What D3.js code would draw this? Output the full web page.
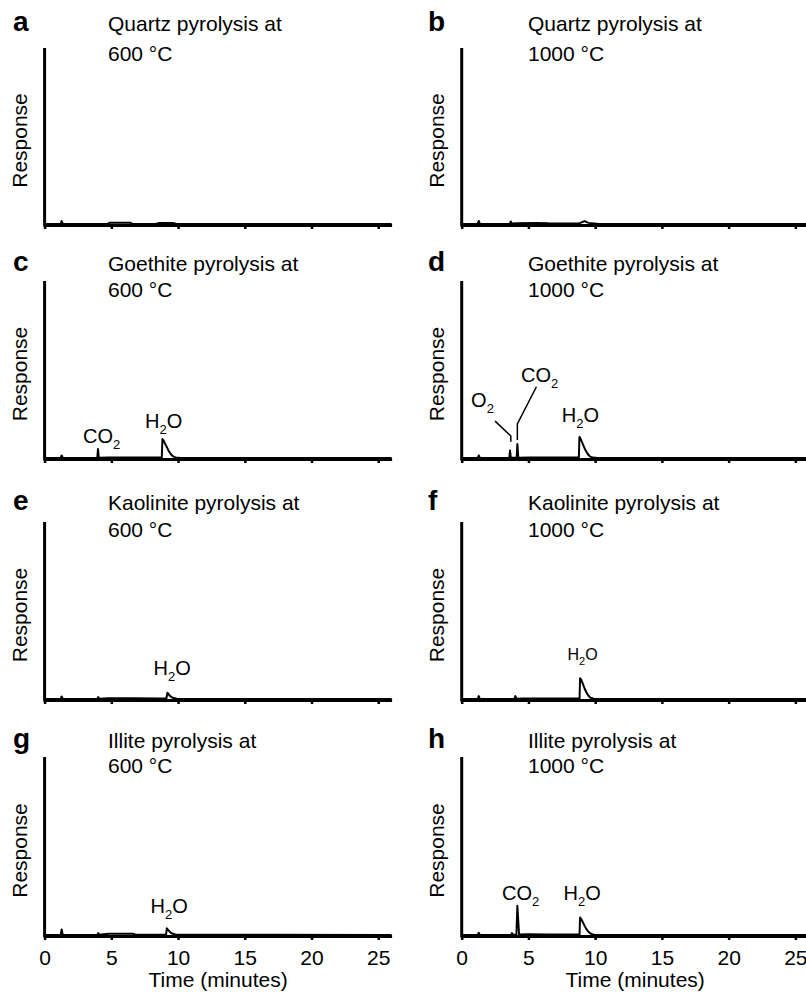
<!DOCTYPE html>
<html><head><meta charset="utf-8">
<script src="https://cdn.jsdelivr.net/npm/d3@7"></script>
<style>body{margin:0;background:#fff}svg{display:block}</style>
</head><body><svg id="chart" width="806" height="992"></svg>
<script>
// ---------- data ----------
const panelLetters = ["a","b","c","d","e","f","g","h"];
const minerals = ["Quartz","Quartz","Goethite","Goethite","Kaolinite","Kaolinite","Illite","Illite"];
const temps = ["600 °C","1000 °C","600 °C","1000 °C","600 °C","1000 °C","600 °C","1000 °C"];
const xTicks = [0,5,10,15,20,25];
const xLabel = "Time (minutes)";
const yLabel = "Response";

// traces: [time (min), response (% of full scale)]
const traceA = [[0,0.6],[1.2,0.6],[1.28,2.2],[1.36,0.6],[4.7,0.6],[4.9,1.3],[6.4,1.3],[6.6,0.6],[8.3,0.6],[8.6,1.2],[9.6,1.2],[9.9,0.6],[26,0.5]];
const traceB = [[0,0.6],[1.2,0.6],[1.28,2.3],[1.36,0.6],[3.6,0.6],[3.68,2],[3.76,0.8],[4.2,1],[5.6,1.2],[6.5,1],[8.8,0.9],[9.2,2.2],[9.5,1.2],[10.3,0.6],[26,0.5]];
const traceC = [[0,0.6],[1.2,0.6],[1.28,2],[1.36,0.6],[3.95,0.6],[4.0,5.6],[4.06,0.7],[4.8,0.9],[6.6,0.9],[8.78,0.8],[8.83,11.2],[8.9,10.5],[9.0,9],[9.15,6.8],[9.3,4.5],[9.45,2.8],[9.6,1.6],[9.8,0.9],[10.2,0.6],[26,0.5]];
const traceD = [[0,0.6],[1.2,0.6],[1.28,2],[1.36,0.6],[3.57,0.6],[3.62,4.8],[3.68,0.7],[4.12,0.7],[4.17,8.4],[4.24,0.7],[5,0.9],[6.5,0.9],[8.78,0.8],[8.82,12.4],[8.9,11.5],[9.0,9.8],[9.15,7],[9.3,4.6],[9.45,2.8],[9.6,1.5],[9.8,0.8],[10.2,0.6],[26,0.5]];
const traceE = [[0,0.6],[1.2,0.6],[1.28,2],[1.36,0.6],[3.95,0.6],[4.02,1.6],[4.1,0.7],[4.8,1],[6.6,1],[8.6,0.8],[9.13,0.9],[9.2,4.1],[9.35,2.6],[9.55,1.4],[9.9,0.7],[26,0.5]];
const traceF = [[0,0.6],[1.2,0.6],[1.28,2.2],[1.36,0.6],[3.95,0.6],[4.02,2.2],[4.1,0.7],[4.6,0.9],[6.4,0.9],[8.83,0.8],[8.87,12.2],[8.95,11.4],[9.05,9.6],[9.2,6.6],[9.35,4.2],[9.5,2.4],[9.65,1.3],[9.9,0.7],[26,0.5]];
const traceG = [[0,0.6],[1.2,0.6],[1.28,3.6],[1.36,0.6],[3.95,0.6],[4.02,1.6],[4.1,0.7],[4.8,1.3],[6.6,1.3],[6.8,0.7],[9.1,0.8],[9.16,4.3],[9.3,3],[9.5,1.5],[9.8,0.8],[26,0.5]];
const traceH = [[0,0.6],[1.2,0.6],[1.28,1.8],[1.36,0.6],[3.7,0.6],[3.77,1.6],[3.84,0.7],[4.1,0.7],[4.17,16.9],[4.3,0.8],[5,1],[6.5,0.9],[8.83,0.8],[8.87,10.3],[8.95,9.6],[9.05,8.1],[9.2,5.8],[9.35,3.8],[9.5,2.3],[9.7,1.2],[9.9,0.7],[26,0.5]];
const traces = [traceA,traceB,traceC,traceD,traceE,traceF,traceG,traceH];

// peak labels: panel index, formula parts [main, subscript, rest], time, response
const peakLabels = [
  {p:2, parts:["CO","2",""], t:4.27, r:9},
  {p:2, parts:["H","2","O"], t:8.92, r:17.4},
  {p:3, parts:["O","2",""], t:1.56, r:29.2},
  {p:3, parts:["CO","2",""], t:5.84, r:43.3},
  {p:3, parts:["H","2","O"], t:8.9, r:20.8},
  {p:4, parts:["H","2","O"], t:9.56, r:14},
  {p:5, parts:["H","2","O"], t:9.06, r:22.5, small:true},
  {p:6, parts:["H","2","O"], t:9.33, r:12.9},
  {p:7, parts:["CO","2",""], t:4.41, r:20.2},
  {p:7, parts:["H","2","O"], t:9.02, r:20.2}
];
// leader lines in panel d: [time, response]
const leaderO2 = [[2.5,21.3],[3.68,12.9],[3.68,9.7]];
const leaderCO2 = [[5.6,40.6],[4.17,19.7],[4.17,10.7]];

// ---------- layout ----------
const FONT = "'Liberation Sans', Arial, Helvetica, sans-serif";
const colX = [44.6, 461.7];
const plotW = 347;
const rowAxis = [225, 459, 700, 936];
const rowTop = [48, 281, 522, 757];
const titleL1 = [31, 271, 510, 748];
const titleL2 = [61, 297, 537, 773];
const letterX = [13, 428];
const titleX = [108, 528];

const svg = d3.select("#chart");
svg.append("rect").attr("width",806).attr("height",992).attr("fill","#fff");

traces.forEach((tr, i) => {
  const col = i % 2, row = Math.floor(i / 2);
  const x = d3.scaleLinear().domain([0, 26]).range([colX[col], colX[col] + plotW]);
  const y = d3.scaleLinear().domain([0, 100]).range([rowAxis[row], rowTop[row]]);
  const g = svg.append("g");

  // x axis
  const ax = d3.axisBottom(x).tickValues(xTicks).tickSize(4).tickSizeOuter(0)
    .tickFormat(row === 3 ? d3.format("d") : () => "");
  const axG = g.append("g").attr("transform", `translate(0,${rowAxis[row]})`).call(ax);
  axG.select(".domain").attr("stroke","#000").attr("stroke-width",3);
  axG.selectAll(".tick line").attr("stroke","#000").attr("stroke-width",2.5);
  axG.selectAll(".tick text").attr("font-family",FONT).attr("font-size",21)
    .attr("fill","#000").attr("dy",0).attr("y",29);

  // y axis (no ticks)
  g.append("line").attr("x1",x(0)).attr("x2",x(0))
    .attr("y1",y(100)).attr("y2",rowAxis[row]+1.5)
    .attr("stroke","#000").attr("stroke-width",3);

  // trace
  g.append("path").datum(tr)
    .attr("d", d3.line().x(d => x(d[0])).y(d => y(d[1])))
    .attr("fill","none").attr("stroke","#000").attr("stroke-width",2)
    .attr("stroke-linejoin","round");

  // y label
  g.append("text")
    .attr("transform", `translate(${x(0) - 18},${(rowAxis[row] + rowTop[row]) / 2 + 4}) rotate(-90)`)
    .attr("text-anchor","middle").attr("font-family",FONT).attr("font-size",21)
    .attr("fill","#000").text(yLabel);

  // panel letter
  g.append("text").attr("x",letterX[col]).attr("y",titleL1[row])
    .attr("font-family",FONT).attr("font-size",28).attr("font-weight","bold")
    .attr("fill","#000").text(panelLetters[i]);

  // title
  g.append("text").attr("x",titleX[col]).attr("y",titleL1[row])
    .attr("font-family",FONT).attr("font-size",21).attr("fill","#000")
    .text(minerals[i] + " pyrolysis at");
  g.append("text").attr("x",titleX[col]).attr("y",titleL2[row])
    .attr("font-family",FONT).attr("font-size",21).attr("fill","#000")
    .text(temps[i]);

  // x label
  if (row === 3) {
    g.append("text").attr("x", (x(0) + x(26)) / 2).attr("y", 987)
      .attr("text-anchor","middle").attr("font-family",FONT).attr("font-size",21)
      .attr("fill","#000").text(xLabel);
  }

  // peak labels
  peakLabels.filter(l => l.p === i).forEach(l => {
    const fs = l.small ? 16 : 20, ss = l.small ? 11 : 13;
    const t = g.append("text").attr("x", x(l.t)).attr("y", y(l.r))
      .attr("text-anchor","middle").attr("font-family",FONT)
      .attr("font-size",fs).attr("fill","#000");
    t.append("tspan").text(l.parts[0]);
    t.append("tspan").attr("font-size",ss).attr("dy", l.small ? 5 : 6).text(l.parts[1]);
    if (l.parts[2]) t.append("tspan").attr("dy", l.small ? -5 : -6).text(l.parts[2]);
  });

  // leaders for panel d
  if (i === 3) {
    [leaderO2, leaderCO2].forEach(ld => {
      g.append("path").datum(ld)
        .attr("d", d3.line().x(d => x(d[0])).y(d => y(d[1])))
        .attr("fill","none").attr("stroke","#000").attr("stroke-width",1.5);
    });
  }
});
</script>
</body></html>
